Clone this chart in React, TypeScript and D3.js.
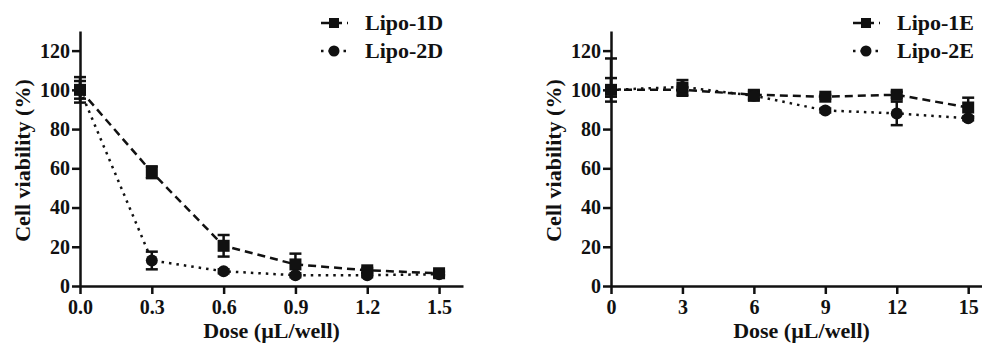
import { useEffect, useRef } from "react";
import * as d3 from "d3";

// ---- data ----
const dosesD = [0, 0.3, 0.6, 0.9, 1.2, 1.5];
const lipo1D = [100, 58, 20.5, 11, 8, 6.5];
const lipo1DHi = [6.5, 3, 5.5, 5.5, 1.2, 1];
const lipo1DLo = [6.5, 3, 5.5, 5.5, 1.2, 1];
const lipo2D = [100, 13, 7.5, 5.5, 5.5, 6];
const lipo2DHi = [4.5, 4.5, 1, 1, 1, 1];
const lipo2DLo = [4.5, 4.5, 1, 1, 1, 1];

const dosesE = [0, 3, 6, 9, 12, 15];
const lipo1E = [100, 100, 97.5, 96.5, 97.5, 91];
const lipo1EHi = [16, 5, 2, 1, 1.5, 5];
const lipo1ELo = [6, 3, 3, 1, 1.5, 5];
const lipo2E = [100, 101.5, 97, 89.5, 88, 85.5];
const lipo2EHi = [6, 2, 1.5, 1, 6, 1];
const lipo2ELo = [3.5, 2, 1.5, 1, 6, 1];

const yTicks = [0, 20, 40, 60, 80, 100, 120];
const xTicksD = [0, 0.3, 0.6, 0.9, 1.2, 1.5];
const xTicksE = [0, 3, 6, 9, 12, 15];

const yLabel = "Cell viability (%)";
const xLabel = "Dose (\u00b5L/well)";

const FONT = "'Liberation Serif', 'Times New Roman', serif";
const INK = "#111";

const drawPanel = (svg, opt) => {
  const { left, right, xMax, ticks, fmt, series, legendX } = opt;
  const top = 31;
  const bottom = 286;

  const x = d3.scaleLinear().domain([0, xMax]).range([left, right]);
  const y = d3.scaleLinear().domain([0, 130]).range([bottom, top]);

  const g = svg.append("g");

  // series lines, error bars, markers
  series.forEach((s) => {
    const pts = s.values.map((v, i) => ({ x: s.doses[i], y: v, hi: s.hi[i], lo: s.lo[i] }));
    const line = d3.line().x((d) => x(d.x)).y((d) => y(d.y));

    g.append("path")
      .datum(pts)
      .attr("d", line)
      .attr("fill", "none")
      .attr("stroke", INK)
      .attr("stroke-width", 2.5)
      .attr("stroke-dasharray", s.dash);

    const eb = g.append("g").attr("stroke", INK).attr("stroke-width", 2.5);
    pts.forEach((d) => {
      const cx = x(d.x);
      eb.append("line").attr("x1", cx).attr("x2", cx).attr("y1", y(d.y + d.hi)).attr("y2", y(d.y - d.lo));
      eb.append("line").attr("x1", cx - 6).attr("x2", cx + 6).attr("y1", y(d.y + d.hi)).attr("y2", y(d.y + d.hi));
      eb.append("line").attr("x1", cx - 6).attr("x2", cx + 6).attr("y1", y(d.y - d.lo)).attr("y2", y(d.y - d.lo));
    });

    pts.forEach((d) => {
      if (s.shape === "square") {
        g.append("rect")
          .attr("x", x(d.x) - 6)
          .attr("y", y(d.y) - 6)
          .attr("width", 12)
          .attr("height", 12)
          .attr("fill", INK);
      } else {
        g.append("circle").attr("cx", x(d.x)).attr("cy", y(d.y)).attr("r", 6).attr("fill", INK);
      }
    });
  });

  // axes
  const yAxis = g
    .append("g")
    .attr("transform", `translate(${left},0)`)
    .call(d3.axisLeft(y).tickValues(yTicks).tickSize(8).tickSizeOuter(0).tickPadding(2));
  const xAxis = g
    .append("g")
    .attr("transform", `translate(0,${bottom})`)
    .call(d3.axisBottom(x).tickValues(ticks).tickFormat(fmt).tickSize(8).tickSizeOuter(0).tickPadding(6));

  [yAxis, xAxis].forEach((a) => {
    a.attr("font-family", FONT).attr("font-size", 20).attr("font-weight", "bold");
    a.selectAll("path, line").attr("stroke", INK).attr("stroke-width", 2.5);
    a.selectAll("text").attr("fill", INK);
  });

  // axis titles
  g.append("text")
    .attr("x", (left + right) / 2)
    .attr("y", 338)
    .attr("text-anchor", "middle")
    .attr("font-family", FONT)
    .attr("font-size", 22)
    .attr("font-weight", "bold")
    .attr("fill", INK)
    .text(xLabel);

  g.append("text")
    .attr("transform", `translate(${left - 50},${(top + bottom) / 2 + 2}) rotate(-90)`)
    .attr("text-anchor", "middle")
    .attr("font-family", FONT)
    .attr("font-size", 22)
    .attr("font-weight", "bold")
    .attr("fill", INK)
    .text(yLabel);

  // legend
  const rows = [23, 51];
  series.forEach((s, i) => {
    const ly = rows[i];
    const lg = g.append("g");
    lg.append("line")
      .attr("x1", legendX - 13)
      .attr("x2", legendX + 14)
      .attr("y1", ly)
      .attr("y2", ly)
      .attr("stroke", INK)
      .attr("stroke-width", 2.5)
      .attr("stroke-dasharray", s.dash);
    if (s.shape === "square") {
      lg.append("rect").attr("x", legendX - 5).attr("y", ly - 5).attr("width", 10).attr("height", 10).attr("fill", INK);
    } else {
      lg.append("circle").attr("cx", legendX).attr("cy", ly).attr("r", 5.5).attr("fill", INK);
    }
    lg.append("text")
      .attr("x", legendX + 31)
      .attr("y", ly + 7)
      .attr("font-family", FONT)
      .attr("font-size", 22)
      .attr("font-weight", "bold")
      .attr("fill", INK)
      .text(s.name);
  });
};

const App = () => {
  const ref = useRef(null);

  useEffect(() => {
    if (!ref.current) return;
    const svg = d3.select(ref.current);
    svg.selectAll("*").remove();

    svg.append("rect").attr("width", 982).attr("height", 344).attr("fill", "#fff");

    drawPanel(svg, {
      left: 80,
      right: 463,
      xMax: 1.6,
      ticks: xTicksD,
      fmt: d3.format(".1f"),
      legendX: 334,
      series: [
        { name: "Lipo-1D", doses: dosesD, values: lipo1D, hi: lipo1DHi, lo: lipo1DLo, shape: "square", dash: "8,5" },
        { name: "Lipo-2D", doses: dosesD, values: lipo2D, hi: lipo2DHi, lo: lipo2DLo, shape: "circle", dash: "2.5,5" },
      ],
    });

    drawPanel(svg, {
      left: 611,
      right: 992,
      xMax: 16,
      ticks: xTicksE,
      fmt: d3.format("d"),
      legendX: 866,
      series: [
        { name: "Lipo-1E", doses: dosesE, values: lipo1E, hi: lipo1EHi, lo: lipo1ELo, shape: "square", dash: "8,5" },
        { name: "Lipo-2E", doses: dosesE, values: lipo2E, hi: lipo2EHi, lo: lipo2ELo, shape: "circle", dash: "2.5,5" },
      ],
    });
  }, []);

  return (
    <svg
      ref={ref}
      width={982}
      height={344}
      style={{ position: "absolute", left: 0, top: 0, display: "block" }}
    />
  );
};

export default App;
